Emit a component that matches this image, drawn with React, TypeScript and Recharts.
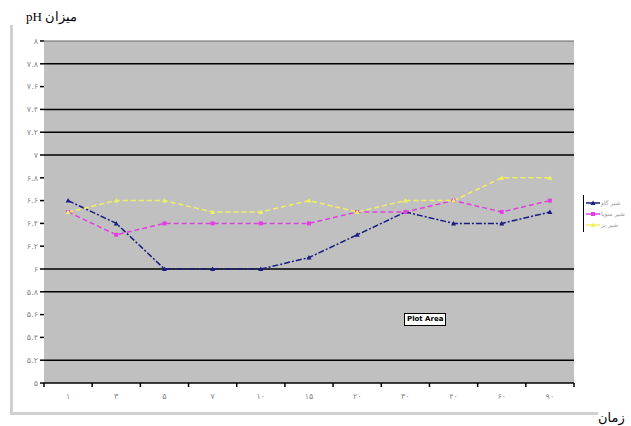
import React from "react";
import {
  LineChart,
  Line,
  XAxis,
  YAxis,
  CartesianGrid,
  ReferenceLine,
} from "recharts";

const categories = ["۱", "۳", "۵", "۷", "۱۰", "۱۵", "۲۰", "۳۰", "۴۰", "۶۰", "۹۰"];
const seriesNames = ["شیر گاو", "شیر سویا", "شیر بز"];
const navyValues = [6.6, 6.4, 6.0, 6.0, 6.0, 6.1, 6.3, 6.5, 6.4, 6.4, 6.5];
const magentaValues = [6.5, 6.3, 6.4, 6.4, 6.4, 6.4, 6.5, 6.5, 6.6, 6.5, 6.6];
const yellowValues = [6.5, 6.6, 6.6, 6.5, 6.5, 6.6, 6.5, 6.6, 6.6, 6.8, 6.8];
const yTicks = [5, 5.2, 5.4, 5.6, 5.8, 6, 6.2, 6.4, 6.6, 6.8, 7, 7.2, 7.4, 7.6, 7.8, 8];
const gridValues = [7.8, 7.4, 7.2, 7, 6, 5.8, 5.2];

const data = categories.map((c, i) => ({
  c,
  a: navyValues[i],
  b: magentaValues[i],
  d: yellowValues[i],
}));

const W = 631;
const H = 426;
const PLOT_LEFT = 44;
const PLOT_RIGHT = 574;
const BAND = (PLOT_RIGHT - PLOT_LEFT) / categories.length;

const FA = "۰۱۲۳۴۵۶۷۸۹";
function fa(s: string) {
  return s.replace(/[0-9]/g, (d) => FA[Number(d)]);
}
function fmtY(v: number) {
  return fa(Number.isInteger(v) ? String(v) : v.toFixed(1));
}

const COLORS = { navy: "#1a1a80", magenta: "#e040e0", yellow: "#f0f060" };

function Triangle({ cx, cy, fill }: any) {
  if (cx == null || cy == null) return null;
  return (
    <polygon
      points={`${cx},${cy - 2.5} ${cx - 2.5},${cy + 2} ${cx + 2.5},${cy + 2}`}
      fill={fill}
    />
  );
}

function Square({ cx, cy, fill }: any) {
  if (cx == null || cy == null) return null;
  return <rect x={cx - 2} y={cy - 2} width={4} height={4} fill={fill} />;
}

function XTick({ x, y, payload, index }: any) {
  const last = index === categories.length - 1;
  return (
    <g>
      <line x1={x - BAND / 2} x2={x - BAND / 2} y1={y - 8} y2={y - 4} stroke="#000" strokeWidth={1.5} />
      {last && (
        <line x1={x + BAND / 2} x2={x + BAND / 2} y1={y - 8} y2={y - 4} stroke="#000" strokeWidth={1.5} />
      )}
      <text x={x} y={y + 8} textAnchor="middle" fontSize={8} fill="#888" fontFamily="DejaVu Sans">
        {payload.value}
      </text>
    </g>
  );
}

function LegendBox() {
  const items = [
    { name: seriesNames[0], color: COLORS.navy, Shape: Triangle },
    { name: seriesNames[1], color: COLORS.magenta, Shape: Square },
    { name: seriesNames[2], color: COLORS.yellow, Shape: Triangle },
  ];
  return (
    <div
      style={{
        position: "absolute",
        left: 583,
        top: 195,
        width: 60,
        borderLeft: "1.5px solid #000",
        paddingLeft: 2,
        height: 37,
        boxSizing: "border-box",
        paddingTop: 2,
      }}
    >
      {items.map((it) => (
        <div key={it.name} style={{ display: "flex", alignItems: "center", height: 11 }}>
          <svg width={14} height={8}>
            <line x1={0} x2={14} y1={4} y2={4} stroke={it.color} strokeWidth={1.5} />
            <it.Shape cx={7} cy={4} fill={it.color} />
          </svg>
          <span
            style={{ fontSize: 6, color: "#999", fontFamily: "DejaVu Sans", whiteSpace: "nowrap", marginLeft: 1 }}
            dir="rtl"
          >
            {it.name}
          </span>
        </div>
      ))}
    </div>
  );
}

export default function App() {
  return (
    <div style={{ position: "absolute", left: 0, top: 0, width: W, height: H, background: "#fff", overflow: "hidden" }}>
      <div style={{ position: "absolute", left: 10, top: 25, width: 3, height: 389, background: "#d0d0d0" }} />
      <div style={{ position: "absolute", left: 10, top: 412, width: 588, height: 3, background: "#d0d0d0" }} />
      <div
        dir="rtl"
        style={{ position: "absolute", left: 26, top: 9, fontFamily: "Liberation Serif", fontSize: 13, color: "#000" }}
      >
        میزان pH
      </div>
      <div
        dir="rtl"
        style={{ position: "absolute", left: 598, top: 410, fontFamily: "DejaVu Sans", fontSize: 13, color: "#000" }}
      >
        زمان
      </div>
      <LineChart
        width={W}
        height={H}
        data={data}
        margin={{ top: 41, right: W - PLOT_RIGHT, bottom: 0, left: 10 }}
      >
        <CartesianGrid horizontal={false} vertical={false} fill="#c0c0c0" />
        <ReferenceLine y={8} stroke="#666" strokeWidth={1} />
        {gridValues.map((v) => (
          <ReferenceLine key={v} y={v} stroke="#000" strokeWidth={1.5} />
        ))}
        <XAxis
          dataKey="c"
          height={H - 383}
          padding={{ left: BAND / 2, right: BAND / 2 }}
          axisLine={{ stroke: "#000", strokeWidth: 1.5 }}
          tickLine={false}
          tick={<XTick />}
          interval={0}
        />
        <YAxis
          width={PLOT_LEFT - 10}
          domain={[5, 8]}
          ticks={yTicks}
          interval={0}
          axisLine={false}
          tickLine={{ stroke: "#000", strokeWidth: 1.5 }}
          tickSize={4}
          tickFormatter={fmtY}
          tick={{ fontSize: 8, fill: "#888", fontFamily: "DejaVu Sans" }}
        />
        <Line
          dataKey="a"
          name={seriesNames[0]}
          stroke={COLORS.navy}
          strokeWidth={1.5}
          strokeDasharray="6 2 2 2"
          dot={<Triangle fill={COLORS.navy} />}
          isAnimationActive={false}
        />
        <Line
          dataKey="b"
          name={seriesNames[1]}
          stroke={COLORS.magenta}
          strokeWidth={1.5}
          strokeDasharray="5 3"
          dot={<Square fill={COLORS.magenta} />}
          isAnimationActive={false}
        />
        <Line
          dataKey="d"
          name={seriesNames[2]}
          stroke={COLORS.yellow}
          strokeWidth={1.5}
          strokeDasharray="5 3"
          dot={<Triangle fill={COLORS.yellow} />}
          isAnimationActive={false}
        />
      </LineChart>
      <LegendBox />
      <div
        style={{
          position: "absolute",
          left: 404,
          top: 313,
          background: "#fff",
          border: "1px solid #000",
          fontFamily: "DejaVu Sans",
          fontWeight: "bold",
          fontSize: 7,
          padding: "1px 2px",
          lineHeight: "9px",
        }}
      >
        Plot Area
      </div>
    </div>
  );
}
